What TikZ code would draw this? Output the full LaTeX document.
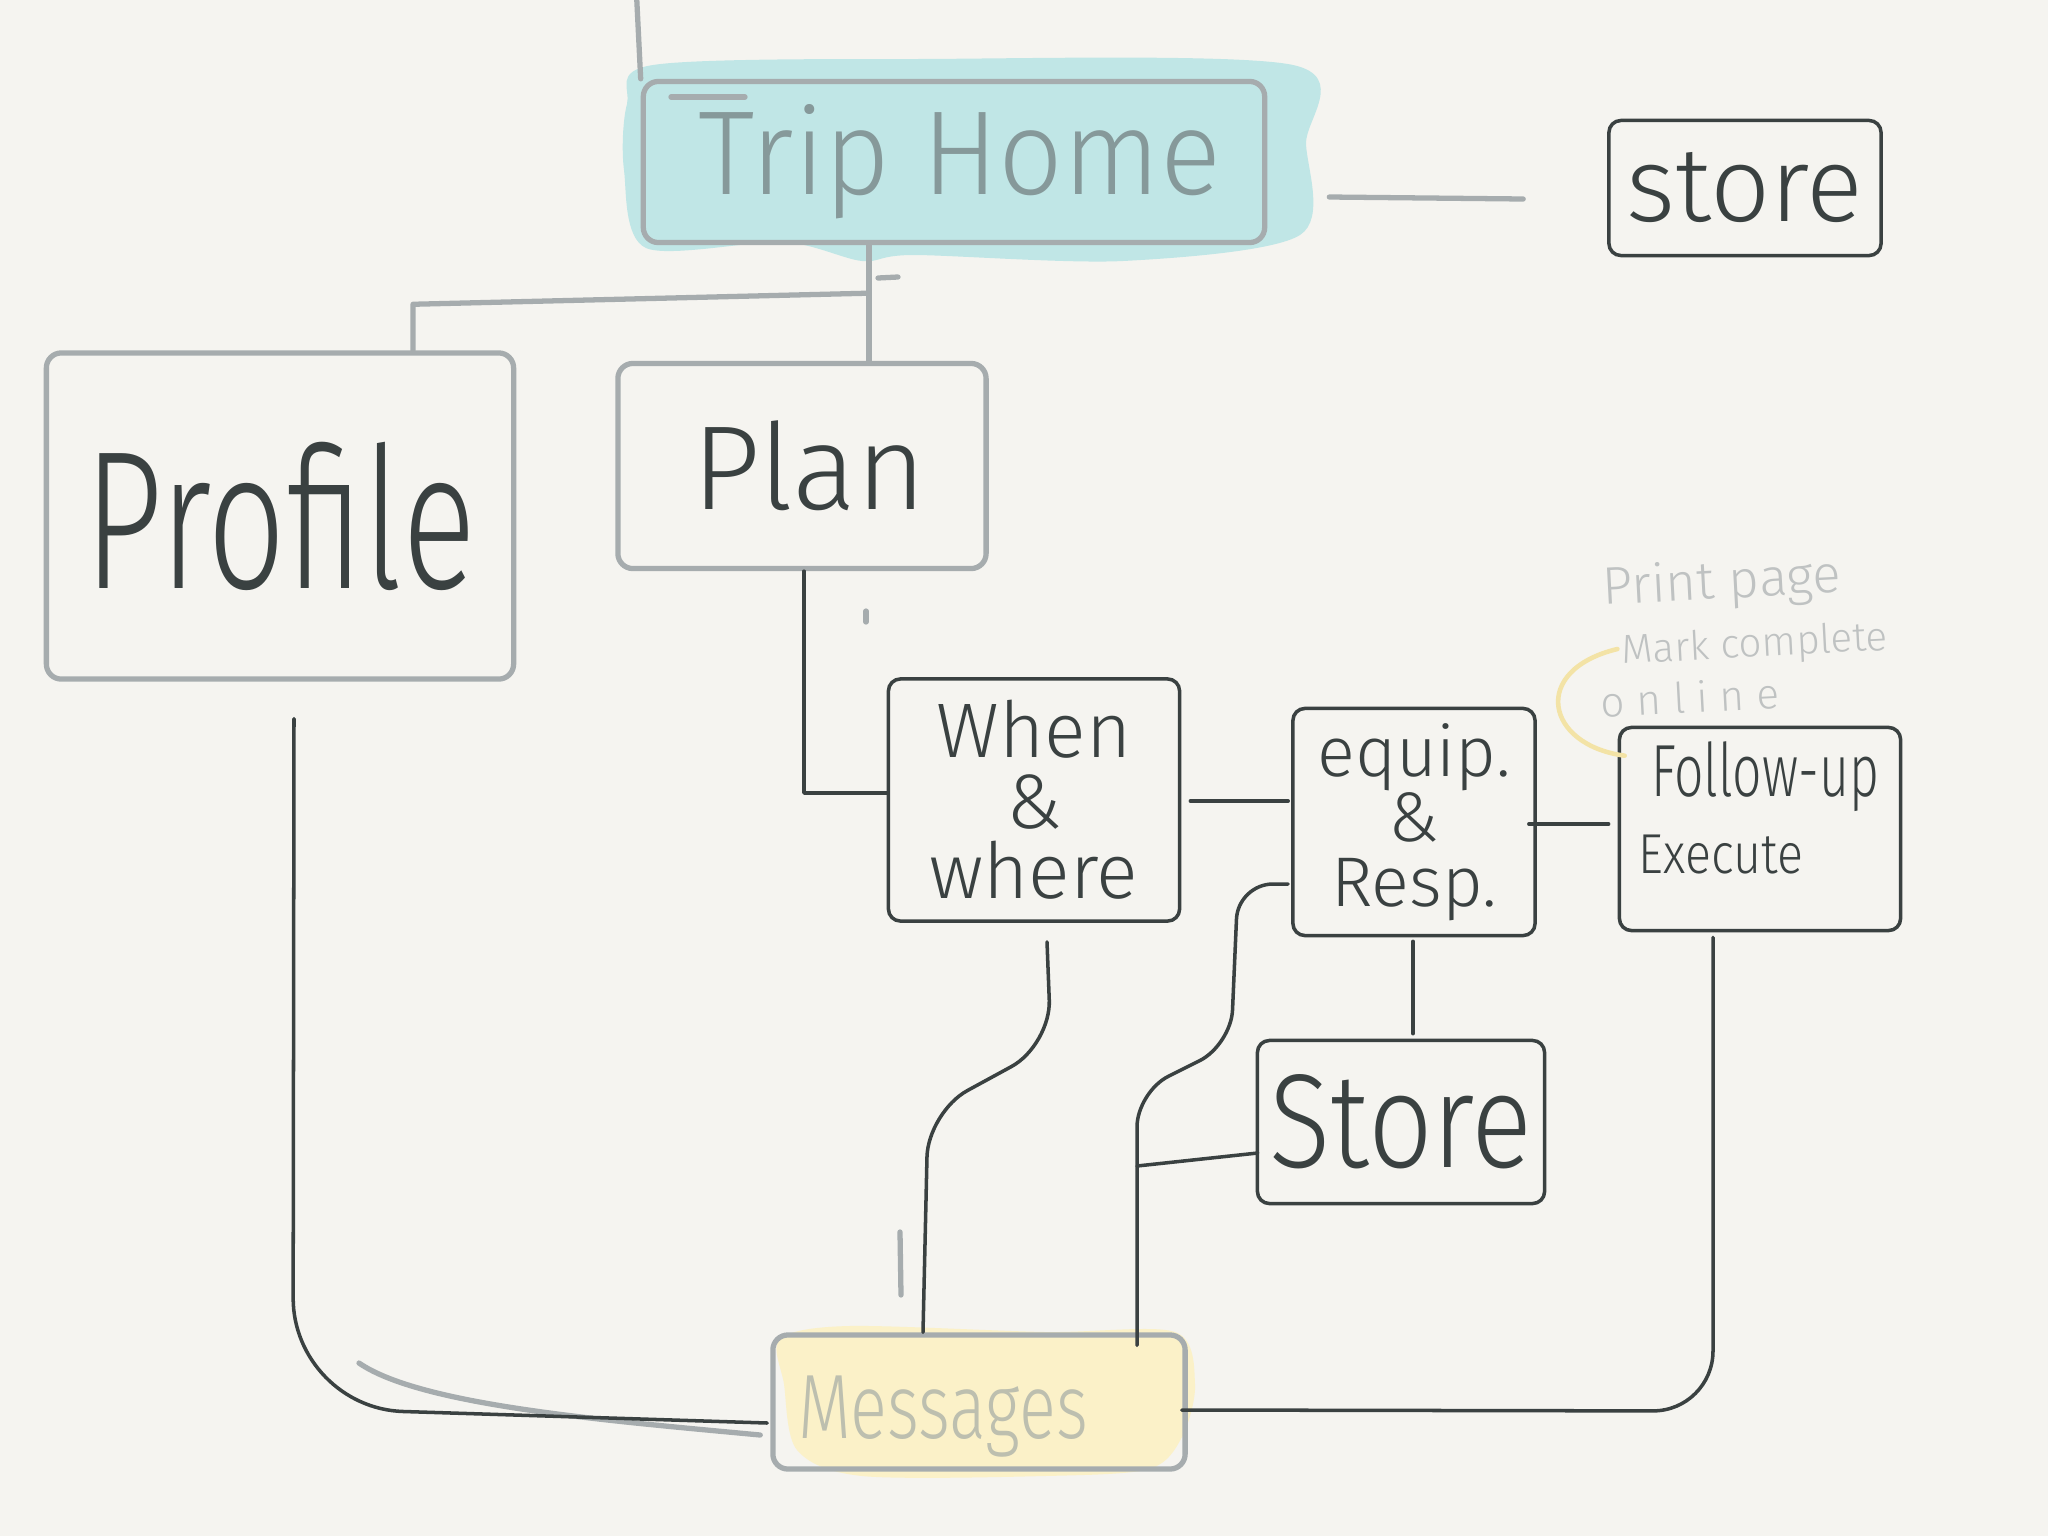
\documentclass[tikz,border=0pt]{standalone}
\usepackage{fontspec}
\setmainfont{Fira Sans}[UprightFont={* Light}]
\definecolor{bgc}{HTML}{F5F4F0}
\definecolor{inkc}{HTML}{3A4141}
\definecolor{pencilc}{HTML}{A6ACAE}
\definecolor{cyanc}{HTML}{C0E6E6}
\definecolor{yellowc}{HTML}{FBF1C8}
\definecolor{tripc}{HTML}{86999A}
\definecolor{msgc}{HTML}{BDBFAF}
\definecolor{notec}{HTML}{BFC2C2}
\definecolor{arcc}{HTML}{F3E3A6}
\newcommand{\hx}[2]{\scalebox{#1}[1]{#2}}
\begin{document}
\begin{tikzpicture}[x=0.01cm,y=-0.01cm,
  ink/.style={draw=inkc, line width=1pt, line cap=round, line join=round},
  pencil/.style={draw=pencilc, line width=1.5pt, line cap=round, line join=round},
  inkbox/.style={ink, rounded corners=0.12cm, inner sep=0pt, text=inkc, align=center},
  pencilbox/.style={pencil, rounded corners=0.15cm, inner sep=0pt, align=center},
  wire/.style={ink},
  notetext/.style={text=notec, inner sep=0pt, rotate=3},
  plain/.style={inner sep=0pt, text=inkc}
]
\fill[bgc] (0,0) rectangle (2048,1536);
\useasboundingbox (0,0) rectangle (2048,1536);

% colour washes
\fill[cyanc] plot[smooth cycle, tension=0.5] coordinates {(627,104) (653,65) (914,59) (1293,65) (1306,144) (1300,235) (1123,261) (914,255) (862,261) (784,242) (646,248) (624,170)};
\fill[yellowc] plot[smooth cycle, tension=0.5] coordinates {(780,1339) (849,1326) (1045,1332) (1175,1332) (1195,1384) (1182,1437) (1149,1469) (1045,1476) (862,1476) (797,1450) (784,1384)};

% nodes
\node[pencilbox, minimum width=6.21cm, minimum height=1.61cm, text=tripc, font=\fontsize{34}{38}\selectfont] (trip) at (954,162) {\hspace{0.12cm}\hx{0.95}{Trip Home}};
\node[inkbox, minimum width=2.72cm, minimum height=1.35cm, font=\fontsize{30}{30}\selectfont] (store1) at (1745,188) {store};
\node[pencilbox, minimum width=4.67cm, minimum height=3.26cm, text=inkc, font=\fontsize{56}{60}\selectfont] (profile) at (280,516) {\hx{0.7}{Profile}};
\node[pencilbox, minimum width=3.68cm, minimum height=2.05cm, text=inkc, font=\fontsize{34}{38}\selectfont] (plan) at (802,466) {\hspace{0.15cm}Plan};
\node[inkbox, minimum width=2.91cm, minimum height=2.42cm, font=\fontsize{22}{20}\selectfont] (when) at (1034,800) {When\\\&\\where};
\node[inkbox, minimum width=2.42cm, minimum height=2.27cm, font=\fontsize{20}{18.5}\selectfont] (equip) at (1414,822) {equip.\\\&\\Resp.};
\node[inkbox, minimum width=2.81cm, minimum height=2.03cm] (follow) at (1760,829) {};
\node[plain, font=\fontsize{21}{20}\selectfont] (followA) at (1765,777) {\hx{0.7}{Follow-up}};
\node[plain, font=\fontsize{16}{16}\selectfont] (followB) at (1721,855) {\hx{0.86}{Execute}};
\node[inkbox, minimum width=2.87cm, minimum height=1.63cm, font=\fontsize{38}{40}\selectfont] (store2) at (1401,1122) {\hx{0.85}{Store}};
\node[pencilbox, minimum width=4.12cm, minimum height=1.34cm] (msg) at (979,1402) {};
\node[inner sep=0pt, text=msgc, font=\fontsize{26}{26}\selectfont] (msgT) at (943,1417) {\hx{0.75}{Messages}};

% note
\node[notetext, font=\fontsize{15}{16}\selectfont] (note1) at (1722,584) {Print page};
\node[notetext, font=\fontsize{11.5}{12}\selectfont] (note2) at (1755,646) {Mark complete};
\node[notetext, font=\fontsize{12}{13}\selectfont] (note3) at (1690,697) {o n l i n e};
\draw[draw=arcc, line width=1.3pt, line cap=round] ([shift={(-4,-4)}]note2.west) .. controls (1530,670) and (1545,745) .. ([shift={(7,30)}]follow.north west);

% pencil connectors
\coordinate (topedge) at ([shift={(-4,-81)}]trip.north west);
\draw[pencil] (trip.north west) -- (topedge);
\draw[pencil] (671,97) -- (745,97);
\draw[pencil] ([shift={(62,35)}]trip.east) -- ([shift={(-84,11)}]store1.west);
\draw[pencil] ([shift={(-85,0)}]trip.south) -- ([shift={(67,0)}]plan.north);
\draw[pencil] ([shift={(-85,48)}]trip.south) -- ([shift={(133,-46)}]profile.north) -- ([shift={(133,0)}]profile.north);
\draw[pencil] (878,278) -- (898,277);
\draw[pencil] (866,611) -- (866,622);
\draw[pencil] (900,1232) -- (901,1295);
\draw[pencil] (359,1363) .. controls (420,1405) and (600,1420) .. ([shift={(-10,33)}]msg.west);

% ink connectors
\draw[wire] ([shift={(2,0)}]plan.south) |- ([shift={(0,-7)}]when.west);
\draw[wire] ([shift={(9,1)}]when.east) -- ([shift={(-3,-21)}]equip.west);
\draw[wire] ([shift={(-8,2)}]equip.east) -- ([shift={(-9,-5)}]follow.west);
\draw[wire] ([shift={(-1,4)}]equip.south) -- ([shift={(12,-5)}]store2.north);
\coordinate (junction) at (1137,1166);
\draw[wire] ([shift={(2,31)}]store2.west) -- (junction);
\draw[wire, rounded corners=0.35cm] ([shift={(-3,62)}]equip.west) -- (1238,884) -- (1231,1045) -- (1137,1092) -- ([shift={(158,13)}]msg.north);
\draw[wire, rounded corners=0.45cm] ([shift={(13,19)}]when.south) -- (1051,1045) -- (928,1112) -- ([shift={(-56,0)}]msg.north);
\draw[wire, rounded corners=1.1cm] ([shift={(14,37)}]profile.south) -- (293,1408) -- ([shift={(-3,21)}]msg.west);
\draw[wire, rounded corners=0.6cm] ([shift={(-47,5)}]follow.south) -- (1713,1411) -- ([shift={(-6,8)}]msg.east);
\end{tikzpicture}
\end{document}
